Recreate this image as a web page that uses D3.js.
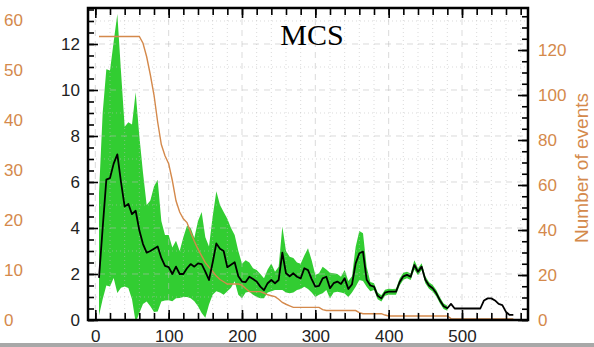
<!DOCTYPE html>
<html><head><meta charset="utf-8">
<script src="https://cdn.jsdelivr.net/npm/d3@7"></script>
<style>body{margin:0;background:#fff;} svg{display:block}</style>
</head><body>
<svg id="chart" width="594" height="347"></svg>
<script>
// ---- data ----
const binX = [5,10,15,20,25,30,35,40,45,50,55,60,65,70,75,80,85,90,95,100,
105,110,115,120,125,130,135,140,145,150,155,160,165,170,175,180,185,190,195,200,
205,210,215,220,225,230,235,240,245,250,255,260,265,270,275,280,285,290,295,300,
305,310,315,320,325,330,335,340,345,350,355,360,365,370,375,380,385,390,395,400,
405,410,415,420,425,430,435,440,445,450,455,460,465,470,475,480,485,490,495,500,
505,510,515,520,525,530,535,540,545,550,555,560,565,570];
const meanVals = [1.83,4.0,6.1,6.17,6.8,7.2,6.0,4.93,5.05,4.6,
4.75,3.9,3.3,2.93,3.0,3.1,3.2,2.7,2.35,2.3,
2.0,2.32,2.0,2.0,2.25,2.43,2.32,2.46,2.43,2.1,
1.74,2.5,3.33,3.1,3.0,2.29,2.4,2.51,1.9,1.67,
1.65,1.88,1.78,1.67,1.45,1.3,1.6,1.74,1.6,1.74,
2.93,2.03,1.9,2.03,1.88,1.81,2.25,2.17,1.78,1.45,
1.48,1.81,1.88,1.38,1.6,1.67,1.57,1.81,1.35,1.55,
2.46,2.9,2.97,1.75,1.5,1.45,1.05,0.94,1.19,1.23,
1.23,1.23,1.65,1.9,1.96,1.88,2.39,2.1,2.32,1.75,
1.5,1.38,1.16,0.85,0.6,0.51,0.7,0.5,0.5,0.5,
0.5,0.5,0.5,0.5,0.5,0.85,0.94,0.94,0.85,0.7,
0.65,0.35,0.22,0.22];
const upperVals = [5.5,9.0,10.9,10.85,12.1,13.3,10.8,8.4,8.6,8.5,
9.9,8.0,6.4,5.0,5.2,5.8,6.1,4.3,3.7,3.7,
3.15,3.45,3.0,3.6,4.1,4.0,3.57,4.3,4.7,3.6,
3.2,4.5,5.6,5.0,4.7,4.4,4.0,3.7,3.0,2.45,
2.6,2.5,2.25,2.17,2.0,1.81,2.2,2.46,2.1,2.32,
4.06,3.0,2.75,2.7,2.5,2.45,2.8,3.12,2.6,1.96,
2.03,2.32,2.2,2.05,2.03,2.0,1.88,2.17,1.7,1.9,
3.19,3.87,3.77,2.3,1.65,1.6,1.2,1.08,1.32,1.36,
1.35,1.36,1.8,2.05,2.1,2.02,2.6,2.25,2.47,1.9,
1.64,1.52,1.3,0.98,0.72,0.62,null,null,null,null,
null,null,null,null,null,null,null,null,null,null,
null,null,null,null];
const lowerVals = [0.2,0.9,1.5,1.46,1.83,1.17,1.4,1.46,1.39,0.9,
-0.1,0.3,0.7,0.8,0.6,0.35,0.37,0.8,0.85,0.86,
0.81,0.95,0.96,1.0,1.0,0.95,0.81,0.6,0.3,0.1,
0.67,1.1,1.25,1.2,1.1,1.25,1.4,1.68,1.1,0.95,
1.2,1.23,1.1,1.0,0.95,0.95,1.2,1.25,1.3,1.3,
1.3,1.2,1.16,1.2,1.3,1.35,1.45,1.35,1.2,1.0,
1.1,1.16,1.3,0.94,1.2,1.23,1.2,1.15,1.0,1.2,
1.45,1.74,1.7,1.45,1.25,1.3,0.9,0.8,1.05,1.1,
1.1,1.1,1.5,1.75,1.82,1.74,2.2,1.95,2.17,1.6,
1.36,1.24,1.02,0.72,0.48,0.4,null,null,null,null,
null,null,null,null,null,null,null,null,null,null,
null,null,null,null];
const eventCounts = [126,126,126,126,126,126,126,126,126,126,
126,126,123,117,109,100,88,78,73,69.5,
62,53,48,45,43.3,39,35,31.5,28.5,25.5,
23.5,21.6,19.5,18,17,16,16,16,16,15.5,
14,12.6,12.6,12.6,12.6,12,11.2,10.8,10.4,9.2,
7.8,7,6.3,5.6,5.6,5.6,5.6,5.6,5.6,5.6,
5.6,4.6,4.2,4.2,4.2,4.2,4.2,4.2,4.2,4.2,
4.2,3.3,2.8,2.8,2.8,2.8,2.8,2.8,2.2,1.8,
1.8,1.8,1.8,1.8,1.8,1.8,1.8,1.8,1.8,1.8,
1.8,1.8,1.8,1.8,1.8,1.8,0.6,0.5,0.5,0.5,
0.5,0.5,0.5,0.5,0.5,0.5,0.5,0.5,0.5,0.5,
0.5,0.5,0.5,0.5];
const xTicks = [0,100,200,300,400,500];
const leftTicks = [0,2,4,6,8,10,12];
const rightTicks = [0,20,40,60,80,100,120];
const farLeftTicks = [0,10,20,30,40,50,60];
const titleText = "MCS";
const rightLabel = "Number of events";

// ---- layout ----
const L = 88, R = 528, T = 8, B = 320;
const orange = "#d4894b";
const svg = d3.select("#chart");
const x = d3.scaleLinear().domain([-10, 590]).range([L, R]);
const yL = d3.scaleLinear().domain([0, 13.565]).range([B, T]);
const yR = d3.scaleLinear().domain([0, 138.67]).range([B, T]);
const yF = d3.scaleLinear().domain([0, 62.4]).range([B, T]);

svg.append("clipPath").attr("id","clip").append("rect")
  .attr("x",L).attr("y",T).attr("width",R-L).attr("height",B-T);

const data = binX.map((v,i)=>({x:v,m:meanVals[i],u:upperVals[i],l:lowerVals[i],n:eventCounts[i]}));
const g = svg.append("g").attr("clip-path","url(#clip)");

// band
g.append("path").datum(data.filter(d=>d.u!==null))
  .attr("fill","#32cd32")
  .attr("d", d3.area().x(d=>x(d.x)).y0(d=>yL(d.l)).y1(d=>yL(d.u)));

// grid
const gridCol = "rgba(190,190,190,0.55)";
const minorX = d3.range(-0, 590, 20).filter(v=>v%100!==0);
const majorY = d3.range(0, 14, 2), minorY = d3.range(1, 14, 2);
g.selectAll(".gxM").data(xTicks).enter().append("line")
  .attr("x1",d=>x(d)).attr("x2",d=>x(d)).attr("y1",T).attr("y2",B)
  .attr("stroke",gridCol).attr("stroke-width",1).attr("stroke-dasharray","6,5");
g.selectAll(".gxm").data(minorX).enter().append("line")
  .attr("x1",d=>x(d)).attr("x2",d=>x(d)).attr("y1",T).attr("y2",B)
  .attr("stroke",gridCol).attr("stroke-width",1).attr("stroke-dasharray","1,3");
g.selectAll(".gyM").data(majorY).enter().append("line")
  .attr("x1",L).attr("x2",R).attr("y1",d=>yL(d)).attr("y2",d=>yL(d))
  .attr("stroke",gridCol).attr("stroke-width",1).attr("stroke-dasharray","6,5");
g.selectAll(".gym").data(minorY).enter().append("line")
  .attr("x1",L).attr("x2",R).attr("y1",d=>yL(d)).attr("y2",d=>yL(d))
  .attr("stroke",gridCol).attr("stroke-width",1).attr("stroke-dasharray","1,3");

// events line
g.append("path").datum(data)
  .attr("fill","none").attr("stroke",orange).attr("stroke-width",1.4)
  .attr("d", d3.line().x(d=>x(d.x)).y(d=>yR(d.n)));

// mean line
g.append("path").datum(data)
  .attr("fill","none").attr("stroke","#000").attr("stroke-width",1.8)
  .attr("stroke-linejoin","round")
  .attr("d", d3.line().x(d=>x(d.x)).y(d=>yL(d.m)));

// axes
const font = "'Liberation Sans', Arial, sans-serif";
function style(sel, col){
  sel.select(".domain").remove();
  sel.selectAll(".tick line").attr("stroke","#000").attr("stroke-width",1.6);
  sel.selectAll("text").attr("fill",col).style("font-family",font).style("font-size","17px");
}
const minorXt = d3.range(-0, 590, 20);
const minorYt = d3.range(0, 13.6, 0.5);
const minorRt = d3.range(0, 138, 5);

svg.append("g").attr("transform",`translate(0,${B})`)
  .call(d3.axisBottom(x).tickValues(minorXt).tickSize(-7).tickFormat("")).call(s=>style(s,"#000"));
svg.append("g").attr("transform",`translate(0,${B})`)
  .call(d3.axisBottom(x).tickValues(xTicks).tickSize(-10).tickPadding(10).tickFormat(d3.format("d"))).call(s=>style(s,"#222"));
svg.append("g").attr("transform",`translate(0,${T})`)
  .call(d3.axisTop(x).tickValues(minorXt).tickSize(-7).tickFormat("")).call(s=>style(s,"#000"));
svg.append("g").attr("transform",`translate(0,${T})`)
  .call(d3.axisTop(x).tickValues(xTicks).tickSize(-10).tickFormat("")).call(s=>style(s,"#000"));

svg.append("g").attr("transform",`translate(${L},0)`)
  .call(d3.axisLeft(yL).tickValues(minorYt).tickSize(-6).tickFormat("")).call(s=>style(s,"#000"));
svg.append("g").attr("transform",`translate(${L},0)`)
  .call(d3.axisLeft(yL).tickValues(leftTicks).tickSize(-10).tickPadding(8).tickFormat(d3.format("d"))).call(s=>style(s,"#222"));

svg.append("g").attr("transform",`translate(${R},0)`)
  .call(d3.axisRight(yR).tickValues(minorRt).tickSize(-6).tickFormat("")).call(s=>style(s,"#000"));
svg.append("g").attr("transform",`translate(${R},0)`)
  .call(d3.axisRight(yR).tickValues(rightTicks).tickSize(-10).tickPadding(10).tickFormat(d3.format("d"))).call(s=>style(s,orange));

// far-left orange labels
svg.append("g").selectAll("text").data(farLeftTicks).enter().append("text")
  .attr("x",4).attr("y",d=>yF(d)).attr("dy","0.35em")
  .attr("fill",orange).style("font-family",font).style("font-size","17px")
  .text(d=>d);

// frame
svg.append("rect").attr("x",L).attr("y",T).attr("width",R-L).attr("height",B-T)
  .attr("fill","none").attr("stroke","#000").attr("stroke-width",2.5);

// title
svg.append("text").attr("x",312).attr("y",45).attr("text-anchor","middle")
  .style("font-family","'Liberation Serif', 'Times New Roman', serif").style("font-size","30px")
  .attr("fill","#000").text(titleText);

// right label
svg.append("text").attr("transform","translate(588,168) rotate(-90)")
  .attr("text-anchor","middle").attr("fill",orange)
  .style("font-family",font).style("font-size","19px").text(rightLabel);

// bottom grey strip
svg.append("rect").attr("x",0).attr("y",343).attr("width",594).attr("height",4).attr("fill","#a8a8a8");
</script>
</body></html>
